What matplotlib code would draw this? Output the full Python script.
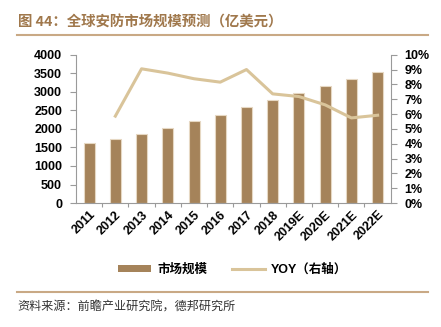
import matplotlib.pyplot as plt
from matplotlib.lines import Line2D
from matplotlib.patches import Patch
from matplotlib.ticker import MultipleLocator, FuncFormatter, FixedLocator

plt.rcParams['font.family'] = ['Liberation Sans', 'Noto Sans CJK SC', 'DejaVu Sans']

# 数据
years = ['2011', '2012', '2013', '2014', '2015', '2016', '2017', '2018',
         '2019E', '2020E', '2021E', '2022E']
market = [1610, 1720, 1865, 2030, 2200, 2370, 2585, 2775, 2975, 3160, 3340, 3540]
yoy = [None, 5.86, 9.05, 8.76, 8.38, 8.15, 9.0, 7.36, 7.18, 6.62, 5.74, 5.92]

bar_color = '#A5835A'
line_color = '#D9C49A'
brown = '#A0784C'
axis_gray = '#9A9A9A'

fig = plt.figure(figsize=(4.41, 3.27), dpi=100)
ax = fig.add_axes([0.1723, 0.379, 0.7137, 0.4537])
ax2 = ax.twinx()

x = list(range(len(years)))
ax.bar(x, market, width=0.42, color=bar_color, edgecolor='#E6D8C3', linewidth=0.8, zorder=2)

yx = [i for i, v in zip(x, yoy) if v is not None]
yv = [v for v in yoy if v is not None]
ax2.plot(yx, yv, color=line_color, lw=2.2, zorder=3)

ax.set_xlim(-0.5, len(years) - 0.5)
ax.set_ylim(0, 4000)
ax2.set_ylim(0, 10)
ax.yaxis.set_major_locator(MultipleLocator(500))
ax2.yaxis.set_major_locator(MultipleLocator(1))
ax2.yaxis.set_major_formatter(FuncFormatter(lambda v, p: f'{v:.0f}%'))

ax.set_xticks(x)
ax.set_xticklabels(years, rotation=45, ha='right', rotation_mode='anchor')
ax.xaxis.set_minor_locator(FixedLocator([i + 0.5 for i in x[:-1]]))
ax.tick_params(axis='x', which='major', length=0, pad=4)
ax.tick_params(axis='x', which='minor', length=3, color=axis_gray, width=0.8)
ax.tick_params(axis='y', length=4, color=axis_gray, width=0.8, pad=6)
ax2.tick_params(axis='y', length=4, color=axis_gray, width=0.8, pad=6)

for lab in ax.get_xticklabels() + ax.get_yticklabels() + ax2.get_yticklabels():
    lab.set_fontweight('bold')
    lab.set_fontsize(9)
    lab.set_color('black')

for a in (ax, ax2):
    a.spines['top'].set_visible(False)
    for s in ('left', 'right', 'bottom'):
        a.spines[s].set_color(axis_gray)
        a.spines[s].set_linewidth(0.8)
ax.spines['right'].set_visible(False)
ax2.spines['left'].set_visible(False)
ax2.spines['bottom'].set_visible(False)
ax2.set_zorder(ax.get_zorder() + 1)
ax2.patch.set_visible(False)

# 标题与分隔线
fig.text(0.041, 0.933, '图 44：全球安防市场规模预测（亿美元）', family=['Noto Sans CJK SC'],
         fontsize=10.4, fontweight='bold', color=brown, va='center', ha='left')
fig.add_artist(Line2D([0.039, 0.971], [0.893, 0.893], color='#C9A985', lw=1.5))
fig.add_artist(Line2D([0.039, 0.971], [0.107, 0.107], color='#C9A985', lw=1.5))
fig.text(0.039, 0.061, '资料来源：前瞻产业研究院，德邦研究所', family=['Noto Sans CJK SC'],
         fontsize=8.7, color='#333333', va='center', ha='left')

handles = [Patch(facecolor=bar_color, edgecolor='none'),
           Line2D([0], [0], color=line_color, lw=2.2)]
leg = fig.legend(handles, ['市场规模', 'YOY（右轴）'], loc='center', ncol=2,
                 bbox_to_anchor=(0.528, 0.174), frameon=False,
                 prop={'family': ['Liberation Sans', 'Noto Sans CJK SC'], 'weight': 'bold', 'size': 9},
                 handlelength=2.6, handleheight=0.5, columnspacing=2.0, handletextpad=0.5)

fig.savefig('out.png', dpi=100)
